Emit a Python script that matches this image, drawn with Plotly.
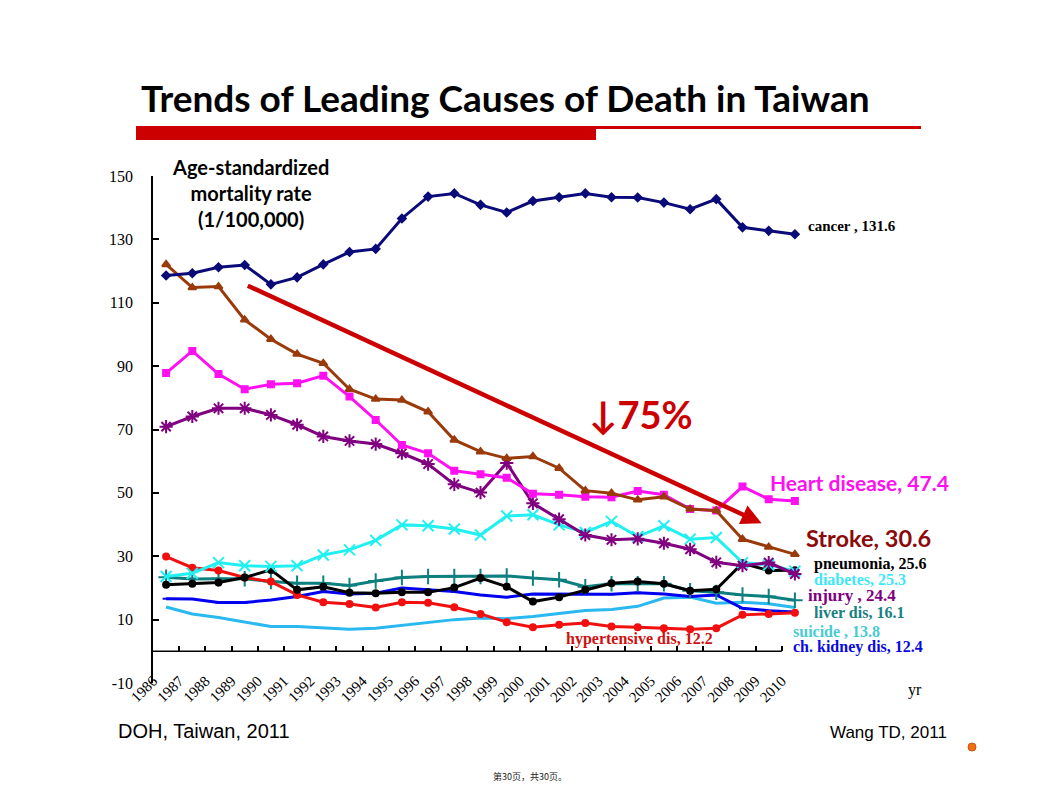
import plotly.graph_objects as go

# ---------------- data (1986-2010) ----------------
years = list(range(1986, 2011))
year_labels = [str(y) for y in years]

cancer = [118.6, 119.3, 121.2, 121.9, 115.8, 118.0, 122.1, 126.0, 127.0, 136.6, 143.5, 144.5, 140.9,
          138.5, 142.1, 143.3, 144.5, 143.3, 143.2, 141.6, 139.5, 142.7, 133.8, 132.7, 131.6]
stroke = [122.1, 114.8, 115.1, 104.6, 98.5, 93.8, 90.9, 82.7, 79.6, 79.3, 75.6, 66.7, 63.0,
          60.9, 61.5, 57.8, 50.7, 49.9, 47.8, 48.8, 44.9, 44.4, 35.4, 32.9, 30.6]
heart = [87.8, 94.8, 87.5, 82.7, 84.3, 84.6, 87.0, 80.4, 73.0, 65.1, 62.5, 57.0, 55.9,
         54.8, 49.7, 49.4, 48.8, 48.6, 50.6, 49.4, 44.9, 44.4, 52.0, 48.0, 47.4]
injury = [70.9, 74.1, 76.7, 76.7, 74.6, 71.5, 67.8, 66.4, 65.4, 62.5, 59.1, 52.7, 50.1,
          59.4, 46.7, 41.7, 36.7, 35.2, 35.5, 34.1, 32.2, 28.1, 27.0, 28.0, 24.4]
diabetes = [23.6, 24.6, 28.0, 27.0, 26.8, 27.0, 30.4, 32.0, 35.0, 39.9, 39.6, 38.6, 36.7,
            42.7, 43.1, 39.9, 37.5, 41.0, 36.2, 39.6, 35.4, 35.9, 28.0, 27.3, 25.3]
pneumonia = [21.0, 21.3, 21.7, 23.3, 25.7, 19.4, 20.4, 18.5, 18.3, 18.6, 18.6, 20.1, 23.1,
             20.4, 15.7, 17.1, 19.4, 21.5, 22.0, 21.3, 19.1, 19.6, 27.8, 25.5, 25.6]
liver = [23.4, 22.8, 22.9, 22.9, 22.0, 21.5, 21.5, 20.8, 22.2, 23.3, 23.6, 23.6, 23.6,
         23.8, 23.1, 22.6, 20.4, 21.3, 21.3, 21.3, 19.1, 18.6, 17.8, 17.3, 16.1]
hypertensive = [29.9, 26.4, 25.5, 23.3, 22.0, 17.8, 15.5, 14.9, 13.8, 15.5, 15.3, 13.9, 11.8,
                9.2, 7.6, 8.4, 8.9, 7.8, 7.6, 7.3, 7.0, 7.3, 11.5, 11.8, 12.2]
kidney = [16.6, 16.5, 15.4, 15.4, 16.2, 17.3, 18.9, 18.1, 18.3, 20.0, 19.4, 18.9, 17.8,
          17.1, 18.1, 18.1, 18.1, 18.0, 18.5, 18.1, 17.3, 17.8, 13.6, 12.8, 12.4]
suicide = [14.0, 11.8, 10.7, 9.3, 7.8, 7.8, 7.3, 7.0, 7.3, 8.2, 9.2, 10.0, 10.5,
           10.3, 11.0, 12.0, 12.9, 13.2, 14.2, 16.8, 17.1, 15.2, 15.5, 15.0, 13.8]

y_ticks = [-10, 10, 30, 50, 70, 90, 110, 130, 150]
y_tick_labels = [str(v) for v in y_ticks]

# ---------------- figure geometry ----------------
OFF = 8                      # page body margin added by the browser
W, H = 1054 - 2 * OFF, 790 - 2 * OFF
PL, PR, PT, PB = 153, 808, 176, 683  # plot area in page pixels


def px(x):
    return (x - PL) / (PR - PL)


def py(y):
    return (PB - y) / (PB - PT)


SERIF = "Liberation Serif"
SANS = "Liberation Sans"
CAL = "Lato"

series = [
    ("suicide", suicide, "#29B8F0", None, 0),
    ("kidney", kidney, "#0000EE", "line-ew-open", 5),
    ("liver", liver, "#0E7F7F", "cross-thin-open", 11),
    ("hypertensive", hypertensive, "#F01010", "circle", 6),
    ("pneumonia", pneumonia, "#000000", "circle", 6),
    ("diabetes", diabetes, "#22F0F0", "x-thin-open", 11),
    ("injury", injury, "#800080", "asterisk-open", 11),
    ("heart", heart, "#FF10F0", "square", 6),
    ("stroke", stroke, "#9A3A0A", "triangle-up", 7),
    ("cancer", cancer, "#0A0A78", "diamond", 6),
]

fig = go.Figure()
for name, vals, col, sym, size in series:
    if sym is None:
        mode = "lines"
        marker = None
    else:
        mode = "lines+markers"
        marker = dict(symbol=sym, size=size, color=col, line=dict(color=col, width=2))
    fig.add_trace(go.Scatter(x=years, y=vals, mode=mode, name=name,
                             line=dict(color=col, width=3), marker=marker,
                             showlegend=False, hoverinfo="skip"))

annotations = []

# title
annotations.append(dict(xref="paper", yref="paper", x=px(139), y=py(97), xanchor="left", yanchor="middle",
                        text="<b>Trends of Leading Causes of Death in Taiwan</b>", showarrow=False,
                        font=dict(family=CAL, size=37, color="#000000")))
# y axis caption
annotations.append(dict(xref="paper", yref="paper", x=px(250), y=py(193), xanchor="center", yanchor="middle",
                        text="<b>Age-standardized<br>mortality rate<br>(1/100,000)</b>", showarrow=False,
                        font=dict(family=CAL, size=20, color="#000000")))
# big arrow
annotations.append(dict(x=2008.73, y=40.4, ax=1989.06, ay=115.6, xref="x", yref="y", axref="x", ayref="y",
                        showarrow=True, arrowhead=2, arrowsize=0.9, arrowwidth=4.5, arrowcolor="#CC0000",
                        text=""))
annotations.append(dict(xref="paper", yref="paper", x=px(641), y=py(414), xanchor="center", yanchor="middle",
                        text="<b>↓75%</b>", showarrow=False,
                        font=dict(family=CAL, size=38, color="#CC0000")))

labels = [
    ("<b>cancer , 131.6</b>", 806, 226, SERIF, 15, "#000000"),
    ("<b>Heart disease, 47.4</b>", 768, 482, CAL, 21, "#FF10F0"),
    ("<b>Stroke, 30.6</b>", 804, 538, CAL, 23.5, "#8B0A0A"),
    ("<b>pneumonia, 25.6</b>", 812, 564, SERIF, 16, "#000000"),
    ("<b>diabetes, 25.3</b>", 812, 579, SERIF, 16, "#3CE8F8"),
    ("<b>injury , 24.4</b>", 806, 595, SERIF, 17, "#800080"),
    ("<b>liver dis, 16.1</b>", 812, 612, SERIF, 16, "#1A8080"),
    ("<b>suicide , 13.8</b>", 791, 631, SERIF, 16, "#48CCD0"),
    ("<b>ch. kidney dis, 12.4</b>", 791, 647, SERIF, 16, "#0A0AE0"),
    ("<b>hypertensive dis, 12.2</b>", 564, 639, SERIF, 16, "#D01010"),
]
for txt, x, y, fam, sz, col in labels:
    annotations.append(dict(xref="paper", yref="paper", x=px(x), y=py(y), xanchor="left", yanchor="middle",
                            text=txt, showarrow=False, font=dict(family=fam, size=sz, color=col)))

annotations.append(dict(xref="paper", yref="paper", x=px(915), y=py(690), xanchor="center", yanchor="middle",
                        text="yr", showarrow=False, font=dict(family=SERIF, size=16, color="#000000")))
annotations.append(dict(xref="paper", yref="paper", x=px(116), y=py(731), xanchor="left", yanchor="middle",
                        text="DOH, Taiwan, 2011", showarrow=False, font=dict(family=SANS, size=20, color="#000000")))
annotations.append(dict(xref="paper", yref="paper", x=px(949), y=py(732), xanchor="right", yanchor="middle",
                        text="Wang TD, 2011", showarrow=False, font=dict(family=SANS, size=17, color="#000000")))
annotations.append(dict(xref="paper", yref="paper", x=px(530), y=py(776), xanchor="center", yanchor="middle",
                        text="第30页，共30页。", showarrow=False,
                        font=dict(family="Noto Sans CJK SC", size=9, color="#222222")))

shapes = [
    # red bar under title
    dict(type="rect", xref="paper", yref="paper", x0=px(136), x1=px(596), y0=py(140), y1=py(126),
         fillcolor="#CC0000", line=dict(width=0)),
    dict(type="rect", xref="paper", yref="paper", x0=px(596), x1=px(921), y0=py(129), y1=py(126),
         fillcolor="#CC0000", line=dict(width=0)),
    # x axis line at y = 0
    dict(type="line", xref="x", yref="y", x0=years[0] - 0.5, x1=years[-1] - 0.5, y0=0, y1=0,
         line=dict(color="#000000", width=1.5)),
    # orange dot
    dict(type="circle", xref="paper", yref="paper", x0=px(968), x1=px(976), y0=py(751), y1=py(743),
         fillcolor="#F07010", line=dict(color="#D05010", width=1)),
]

fig.update_layout(
    width=W, height=H,
    margin=dict(l=PL - OFF, r=W - (PR - OFF), t=PT - OFF, b=H - (PB - OFF), pad=0),
    paper_bgcolor="white", plot_bgcolor="white",
    showlegend=False,
    annotations=annotations,
    shapes=shapes,
    xaxis=dict(range=[years[0] - 0.5, years[-1] + 0.5], tickmode="array",
               tickvals=[y - 0.5 for y in years], ticktext=year_labels,
               tickangle=-45, ticks="inside", ticklen=5, tickwidth=1.5, tickcolor="#000000",
               showline=False, showgrid=False, zeroline=False,
               anchor="free", position=10 / 160, ticklabelstandoff=17,
               tickfont=dict(family=SERIF, size=15, color="#000000")),
    yaxis=dict(range=[-10, 150], tickmode="array", tickvals=y_ticks, ticktext=y_tick_labels,
               ticks="inside", ticklen=6, tickwidth=1.5, tickcolor="#000000",
               showline=True, linecolor="#000000", linewidth=1.5,
               showgrid=False, zeroline=False, ticklabelstandoff=15,
               tickfont=dict(family=SERIF, size=16, color="#000000")),
)

fig.write_html("out.html")
